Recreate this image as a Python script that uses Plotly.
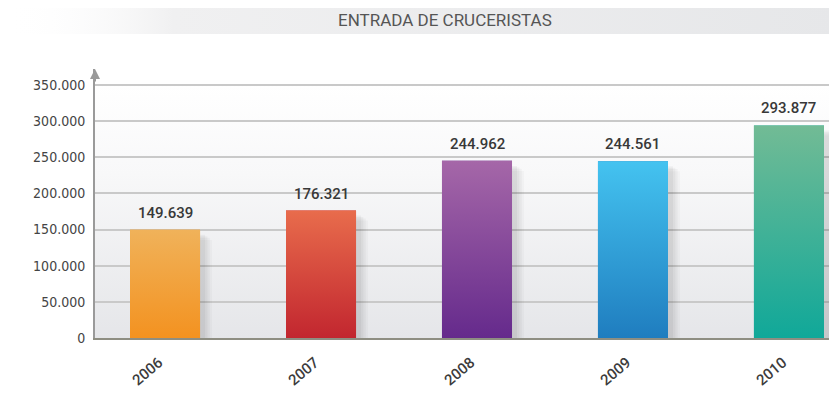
import plotly.graph_objects as go
import urllib.parse

years = ["2006", "2007", "2008", "2009", "2010"]
values = [149639, 176321, 244962, 244561, 293877]
top_colors = ["#f0b25a", "#e86c4c", "#a567a8", "#44c3f0", "#72bb95"]
bottom_colors = ["#f39220", "#c2262f", "#652a8c", "#1f7dbf", "#10a899"]
y_ticks = [0, 50000, 100000, 150000, 200000, 250000, 300000, 350000]
title_text = "ENTRADA DE CRUCERISTAS"

FONT = "DejaVu Sans Condensed, Roboto, sans-serif"
FONT2 = "Roboto, sans-serif"
BAR_W = 0.449
YMAX = 372000

xs = list(range(len(years)))
labels = [f"{v:,}".replace(",", ".") for v in values]

fig = go.Figure()

# soft shadows behind bars (layered translucent bars)
for dx, extra, drop, alpha in [(0.040, 0.075, 14000, 0.025), (0.035, 0.055, 11000, 0.03),
                               (0.030, 0.035, 9000, 0.035), (0.025, 0.015, 7000, 0.04)]:
    fig.add_trace(go.Bar(
        x=[i + dx for i in xs], y=[v - drop for v in values], width=BAR_W + extra,
        marker=dict(color=f"rgba(0,0,0,{alpha})", line=dict(width=0)),
        hoverinfo="skip",
    ))

# base bars
fig.add_trace(go.Bar(
    x=xs, y=values, width=BAR_W,
    marker=dict(color=bottom_colors, line=dict(width=0)),
    hoverinfo="skip",
))

# vertical gradient overlays for each bar
for i, v in enumerate(values):
    x0, x1 = i - BAR_W / 2, i + BAR_W / 2
    fig.add_trace(go.Scatter(
        x=[x0, x1, x1, x0, x0], y=[0, 0, v, v, 0],
        mode="lines", line=dict(width=0), fill="toself",
        fillgradient=dict(type="vertical",
                          colorscale=[[0, bottom_colors[i]], [1, top_colors[i]]]),
        hoverinfo="skip", showlegend=False,
    ))

def svg_uri(svg):
    return "data:image/svg+xml;charset=utf-8," + urllib.parse.quote(svg)

bg_svg = ('<svg xmlns="http://www.w3.org/2000/svg" width="100" height="100" preserveAspectRatio="none">'
          '<defs><linearGradient id="g" x1="0" y1="0" x2="0" y2="1">'
          '<stop offset="0" stop-color="#ffffff"/><stop offset="0.35" stop-color="#f8f8f9"/>'
          '<stop offset="1" stop-color="#e5e6e9"/></linearGradient></defs>'
          '<rect width="100" height="100" fill="url(#g)"/></svg>')
banner_svg = ('<svg xmlns="http://www.w3.org/2000/svg" width="100" height="100" preserveAspectRatio="none">'
              '<defs><linearGradient id="h" x1="0" y1="0" x2="1" y2="0">'
              '<stop offset="0" stop-color="#ffffff" stop-opacity="0"/>'
              '<stop offset="0.2" stop-color="#f0f0f1"/>'
              '<stop offset="1" stop-color="#e6e7e9"/></linearGradient></defs>'
              '<rect width="100" height="100" fill="url(#h)"/></svg>')

annotations = [
    dict(text=title_text, xref="paper", yref="paper", x=0.4717, y=1.182, yanchor="middle",
         showarrow=False, font=dict(family=FONT2, size=17, color="#555555")),
    dict(text="", xref="paper", yref="y", x=0, y=YMAX, ax=0, ay=14,
         showarrow=True, arrowhead=2, arrowsize=1, arrowwidth=2, arrowcolor="#9a9a9a"),
]
for i, v in enumerate(values):
    annotations.append(dict(
        text=labels[i], x=xs[i], y=v, xref="x", yref="y",
        yanchor="bottom", yshift=6, showarrow=False,
        font=dict(family=FONT2, size=15, color="#383838", weight=500),
    ))

fig.update_layout(
    width=829, height=399,
    margin=dict(l=87, r=0, t=61, b=69),
    paper_bgcolor="white",
    plot_bgcolor="rgba(0,0,0,0)",
    separators=",.",
    showlegend=False,
    barmode="overlay",
    images=[
        dict(source=svg_uri(bg_svg), xref="paper", yref="y", x=0, y=350000,
             sizex=1, sizey=350000, sizing="stretch", layer="below",
             xanchor="left", yanchor="top"),
        dict(source=svg_uri(banner_svg), xref="paper", yref="paper", x=-0.118, y=1.255,
             sizex=1.118, sizey=0.125, sizing="stretch", layer="below",
             xanchor="left", yanchor="top"),
    ],
    xaxis=dict(
        range=[-0.449, 4.308], tickvals=xs, ticktext=years,
        tickangle=-40, showgrid=False, zeroline=False,
        showline=True, linecolor="#8e8e82", linewidth=2,
        ticks="", ticklabelstandoff=8, ticklabelshift=-6,
        tickfont=dict(family=FONT2, size=15, color="#3c3c3c", weight=500),
    ),
    yaxis=dict(
        range=[0, YMAX], tickvals=y_ticks, tickformat=",d",
        showgrid=True, gridcolor="#c9c9c9", gridwidth=1.5,
        zeroline=False, showline=True, linecolor="#9a9a9a", linewidth=2,
        ticks="", ticklabelstandoff=5,
        tickfont=dict(family=FONT, size=14, color="#444444"),
    ),
    annotations=annotations,
)

fig.write_html("out.html")
